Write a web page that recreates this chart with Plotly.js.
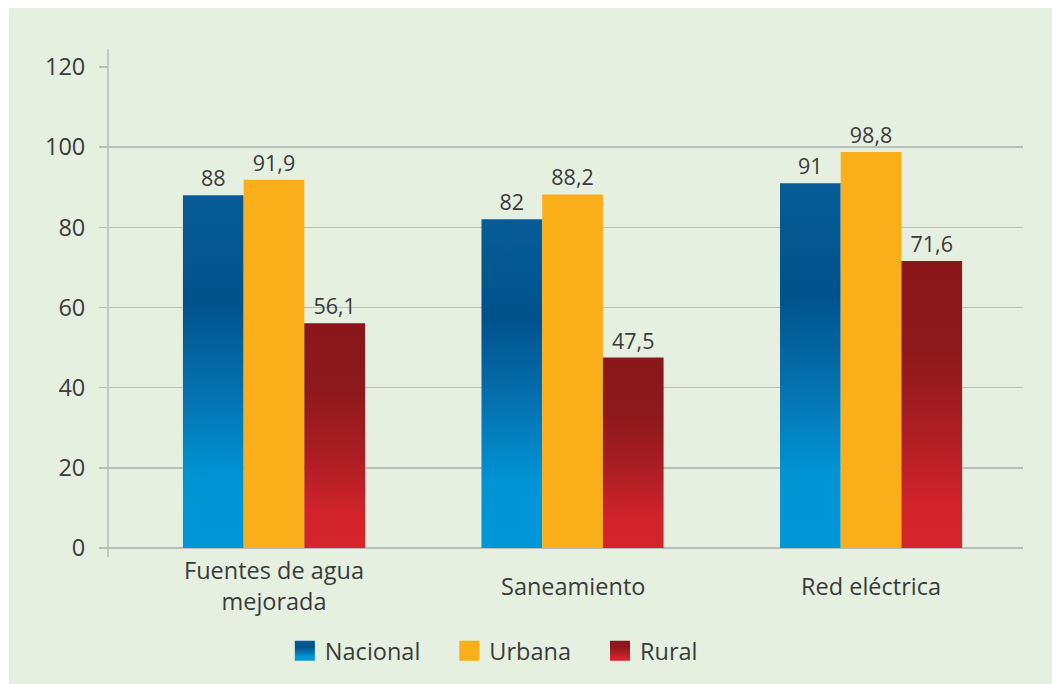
<!DOCTYPE html>
<html>
<head>
<meta charset="utf-8">
<script src="https://cdn.plot.ly/plotly-3.0.1.min.js"></script>
<style>
  html, body { margin: 0; padding: 0; background: #ffffff; }
  #chart { position: absolute; left: 9px; top: 8px; width: 1043px; height: 676px; }
</style>
</head>
<body>
<div id="chart"></div>
<script>
// ---- data ----
const categories = ["Fuentes de agua<br>mejorada", "Saneamiento", "Red eléctrica"];
const seriesNames = ["Nacional", "Urbana", "Rural"];
const nacional = [88, 82, 91];
const urbana = [91.9, 88.2, 98.8];
const rural = [56.1, 47.5, 71.6];
const yTicks = [0, 20, 40, 60, 80, 100, 120];

// ---- styles ----
const FONT = "Open Sans, Noto Sans, sans-serif";
const TXT = "#3b3b3b";
const GRID = "#b9bcb8";
const BG = "#e5f0e1";

const xIdx = categories.map((c, i) => i);

function barTrace(name, vals, color) {
  return {
    type: "bar",
    name: name,
    x: xIdx,
    y: vals,
    marker: { color: color, line: { width: 0 } },
    texttemplate: "%{y}",
    textposition: "outside",
    textfont: { family: FONT, size: 21.5, color: TXT },
    cliponaxis: false,
    hoverinfo: "skip"
  };
}

const data = [
  barTrace(seriesNames[0], nacional, "#01629e"),
  barTrace(seriesNames[1], urbana, "#f9ae1a"),
  barTrace(seriesNames[2], rural, "#b01e24")
];

const annotations = categories.map((c, i) => ({
  x: i, xref: "x", y: -0.079, yref: "paper",
  text: c, showarrow: false, xanchor: "center", yanchor: "middle",
  font: { family: FONT, size: 23.5, color: TXT }
}));

const layout = {
  width: 1043, height: 676,
  paper_bgcolor: BG, plot_bgcolor: BG,
  margin: { l: 99, r: 29, t: 59, b: 136, autoexpand: false },
  separators: ",.",
  barmode: "group",
  bargap: 0.39,
  bargroupgap: 0,
  showlegend: true,
  font: { family: FONT, color: TXT },
  xaxis: {
    range: [-0.556, 2.509],
    showticklabels: false, ticks: "", showgrid: false, zeroline: false, showline: false,
    fixedrange: true
  },
  yaxis: {
    range: [0, 120],
    tickvals: yTicks,
    ticktext: yTicks.map(String),
    ticks: "outside", ticklen: 8, tickwidth: 1.5, tickcolor: GRID,
    ticklabelstandoff: 9,
    tickfont: { family: FONT, size: 23.5, color: TXT },
    showgrid: true, gridcolor: GRID, gridwidth: 1.5,
    zeroline: true, zerolinecolor: GRID, zerolinewidth: 1.5,
    showline: false,
    automargin: false,
    fixedrange: true
  },
  shapes: [{
    type: "line", xref: "paper", yref: "paper",
    x0: 0, x1: 0, y0: -0.019, y1: 1.037,
    line: { color: GRID, width: 1.5 }
  }],
  annotations: annotations,
  legend: {
    orientation: "h",
    x: 0.1933, xanchor: "left",
    y: -0.214, yanchor: "middle",
    font: { family: FONT, size: 23.5, color: TXT },
    bgcolor: "rgba(0,0,0,0)",
    entrywidth: 125, entrywidthmode: "pixels",
    traceorder: "normal"
  }
};

function addGradients(gd) {
  const svg = gd.querySelector("svg.main-svg");
  let defs = svg.querySelector("defs");
  const NS = "http://www.w3.org/2000/svg";
  function grad(id, stops) {
    const g = document.createElementNS(NS, "linearGradient");
    g.setAttribute("id", id);
    g.setAttribute("x1", "0"); g.setAttribute("y1", "0");
    g.setAttribute("x2", "0"); g.setAttribute("y2", "1");
    stops.forEach(s => {
      const st = document.createElementNS(NS, "stop");
      st.setAttribute("offset", s[0]);
      st.setAttribute("stop-color", s[1]);
      g.appendChild(st);
    });
    defs.appendChild(g);
  }
  grad("gNac", [["0", "#075c97"], ["0.3", "#00528b"], ["0.55", "#0570ae"], ["0.8", "#0094d4"], ["1", "#0097d8"]]);
  grad("gRur", [["0", "#891719"], ["0.3", "#8c191b"], ["0.6", "#ad1e24"], ["0.85", "#d2232b"], ["1", "#d4252c"]]);
  const ids = ["url(#gNac)", null, "url(#gRur)"];
  const traces = gd.querySelectorAll(".barlayer .trace");
  traces.forEach((t, i) => {
    if (!ids[i]) return;
    t.querySelectorAll(".point path").forEach(p => { p.style.fill = ids[i]; });
  });
  // legend: larger swatches, spacing based on text width
  const legItems = Array.from(gd.querySelectorAll(".legend .traces"));
  let nextX = null;
  legItems.forEach((t, i) => {
    t.querySelectorAll(".legendpoints path").forEach(p => {
      if (ids[i]) p.style.fill = ids[i];
      const tr = p.getAttribute("transform") || "";
      p.setAttribute("transform", tr + " scale(1.67)");
    });
    const m = /translate\(\s*([-\d.]+)[ ,]+([-\d.]+)\s*\)/.exec(t.getAttribute("transform") || "");
    if (!m) return;
    const x = parseFloat(m[1]), y = parseFloat(m[2]);
    const curX = nextX === null ? x : nextX;
    t.setAttribute("transform", "translate(" + curX + "," + y + ")");
    const txt = t.querySelector(".legendtext");
    const w = txt ? txt.getComputedTextLength() : 100;
    nextX = curX + 40 + w + 29;
  });
}

Plotly.newPlot("chart", data, layout, { staticPlot: true, displayModeBar: false })
  .then(gd => addGradients(gd));
</script>
</body>
</html>
